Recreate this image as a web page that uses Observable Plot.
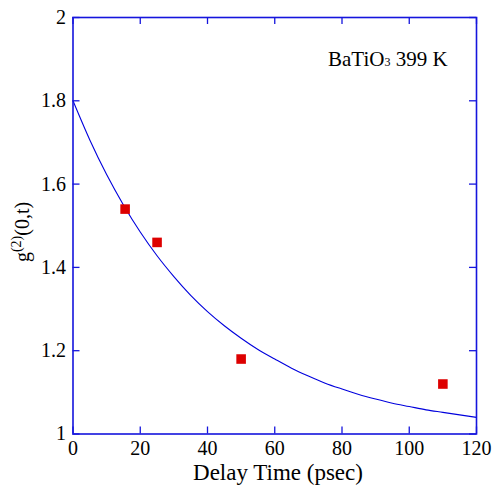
<!DOCTYPE html>
<html><head><meta charset="utf-8">
<script src="https://cdn.jsdelivr.net/npm/d3@7"></script>
<script src="https://cdn.jsdelivr.net/npm/@observablehq/plot@0.6"></script>
<style>
body{margin:0;background:#fff;}
svg{font-family:"Liberation Serif","DejaVu Serif",serif;}
</style></head>
<body><div id="chart"></div>
<script>
// measured points
const delay = [15.5, 25, 50, 110];
const g2 = [1.54, 1.46, 1.18, 1.12];
// fitted curve
const fitT = [0,5,10,15,20,25,30,35,40,45,50,55,60,65,70,75,80,85,90,95,100,105,110,115,120];
const fitG = [1.80,1.706,1.623,1.550,1.485,1.428,1.378,1.333,1.294,1.260,1.230,1.203,1.180,1.158,1.139,1.122,1.108,1.095,1.084,1.074,1.066,1.058,1.052,1.046,1.040];
const xTicks = [0,20,40,60,80,100,120];
const yTicks = [1,1.2,1.4,1.6,1.8,2];
const yTickLabels = ["1","1.2","1.4","1.6","1.8","2"];

const W = 493, H = 489;
const mL = 72.5, mR = 17, mT = 17, mB = 55.5;
const pw = W - mL - mR, ph = H - mT - mB;
const tk = 7;
const blue = "#1515dd";

const pts = delay.map((d,i)=>({t:d, g:g2[i]}));
const fit = fitT.map((d,i)=>({t:d, g:fitG[i]}));

const plot = Plot.plot({
  width: W, height: H,
  marginLeft: mL, marginRight: mR, marginTop: mT, marginBottom: mB,
  style: {fontFamily: "Liberation Serif, serif", fontSize: "20px", color: "#000", background: "#fff"},
  x: {domain: [0,120]},
  y: {domain: [1,2]},
  marks: [
    Plot.axisX(xTicks, {tickSize: 0, tickPadding: 7, fontSize: 20, label: null}),
    Plot.axisY(yTicks, {tickSize: 0, tickPadding: 7, fontSize: 20, label: null, tickFormat: d=>yTickLabels[yTicks.indexOf(d)]}),
    Plot.tickX(xTicks, {x: d=>d, stroke: blue, strokeWidth: 1.3, insetTop: ph - tk}),
    Plot.tickX(xTicks, {x: d=>d, stroke: blue, strokeWidth: 1.3, insetBottom: ph - tk}),
    Plot.tickY(yTicks, {y: d=>d, stroke: blue, strokeWidth: 1.3, insetRight: pw - tk}),
    Plot.tickY(yTicks, {y: d=>d, stroke: blue, strokeWidth: 1.3, insetLeft: pw - tk}),
    Plot.line(fit, {x: "t", y: "g", stroke: "#0000dd", strokeWidth: 1.1, curve: "monotone-x"}),
    Plot.dot(pts, {x: "t", y: "g", symbol: "square", r: 5.4, fill: "#dd0000", stroke: "none"}),
    Plot.frame({stroke: blue, strokeWidth: 1.6})
  ]
});
document.getElementById("chart").appendChild(plot);

const svg = d3.select(plot);
// x label
svg.append("text").attr("x", 278).attr("y", 480).attr("text-anchor","middle")
  .attr("font-size", 23).attr("fill","#000").text("Delay Time (psec)");
// y label
const yl = svg.append("text").attr("transform", `translate(29,232) rotate(-90)`)
  .attr("text-anchor","middle").attr("font-size", 20).attr("fill","#000");
yl.append("tspan").text("g");
yl.append("tspan").attr("dy", -8).attr("font-size", 14).text("(2)");
yl.append("tspan").attr("dy", 8).text("(0,t)");
// annotation
const an = svg.append("text").attr("x", 328).attr("y", 66).attr("text-anchor","start")
  .attr("font-size", 21).attr("fill","#000");
an.append("tspan").text("BaTiO");
an.append("tspan").attr("font-size", 12).text("3");
an.append("tspan").text(" 399 K");
</script></body></html>
